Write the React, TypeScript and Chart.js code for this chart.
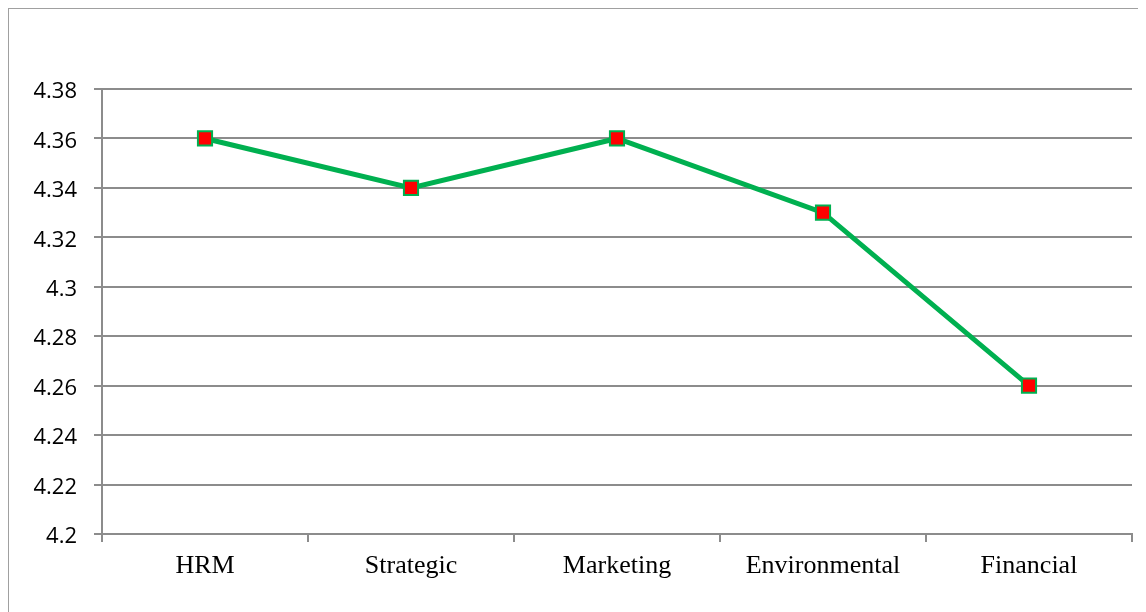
import React, { useEffect, useRef } from "react";
import { Chart, registerables } from "chart.js";

Chart.register(...registerables);

const categories = ["HRM", "Strategic", "Marketing", "Environmental", "Financial"];
const values = [4.36, 4.34, 4.36, 4.33, 4.26];
const yMin = 4.2;
const yMax = 4.38;
const yStep = 0.02;

const W = 1136;
const H = 610;

export default function App() {
  const ref = useRef<HTMLCanvasElement | null>(null);

  useEffect(() => {
    if (!ref.current) return;
    const gridColor = "#8c8c8c";
    const chart = new Chart(ref.current, {
      type: "line",
      data: {
        labels: categories,
        datasets: [
          {
            data: values,
            borderColor: "#00b050",
            borderWidth: 5,
            pointStyle: "rect",
            pointRadius: 10,
            pointHoverRadius: 10,
            pointBackgroundColor: "#ff0000",
            pointBorderColor: "#00b050",
            pointBorderWidth: 2,
            tension: 0,
          },
        ],
      },
      options: {
        responsive: false,
        animation: false,
        layout: { padding: { top: 80, right: 13, left: 0, bottom: 0 } },
        plugins: { legend: { display: false }, tooltip: { enabled: false } },
        scales: {
          x: {
            offset: true,
            grid: {
              offset: true,
              drawOnChartArea: false,
              drawTicks: true,
              tickLength: 8,
              color: gridColor,
              lineWidth: 2,
            },
            border: { display: true, color: gridColor, width: 2 },
            ticks: {
              padding: 9,
              color: "#000",
              font: { family: "'Liberation Serif', 'Times New Roman', serif", size: 26 },
              maxRotation: 0,
            },
            afterFit: (s: any) => {
              s.height = 85;
            },
          },
          y: {
            min: yMin,
            max: yMax,
            grid: {
              color: gridColor,
              lineWidth: 2,
              tickLength: 8,
              drawTicks: true,
            },
            border: { display: true, color: gridColor, width: 2 },
            ticks: {
              stepSize: yStep,
              padding: 17,
              color: "#000",
              font: { family: "'Open Sans', sans-serif", size: 22, lineHeight: 0.27 },
              callback: (v: any) => ["", Number(Number(v).toFixed(2)).toString()],
            },
            afterFit: (s: any) => {
              s.width = 93;
            },
          },
        },
      },
    });
    return () => chart.destroy();
  }, []);

  return (
    <div
      style={{
        border: "1px solid #a0a0a0",
        width: W,
        height: 640,
        background: "#fff",
      }}
    >
      <canvas ref={ref} width={W} height={H} style={{ display: "block", width: W, height: H }} />
    </div>
  );
}
